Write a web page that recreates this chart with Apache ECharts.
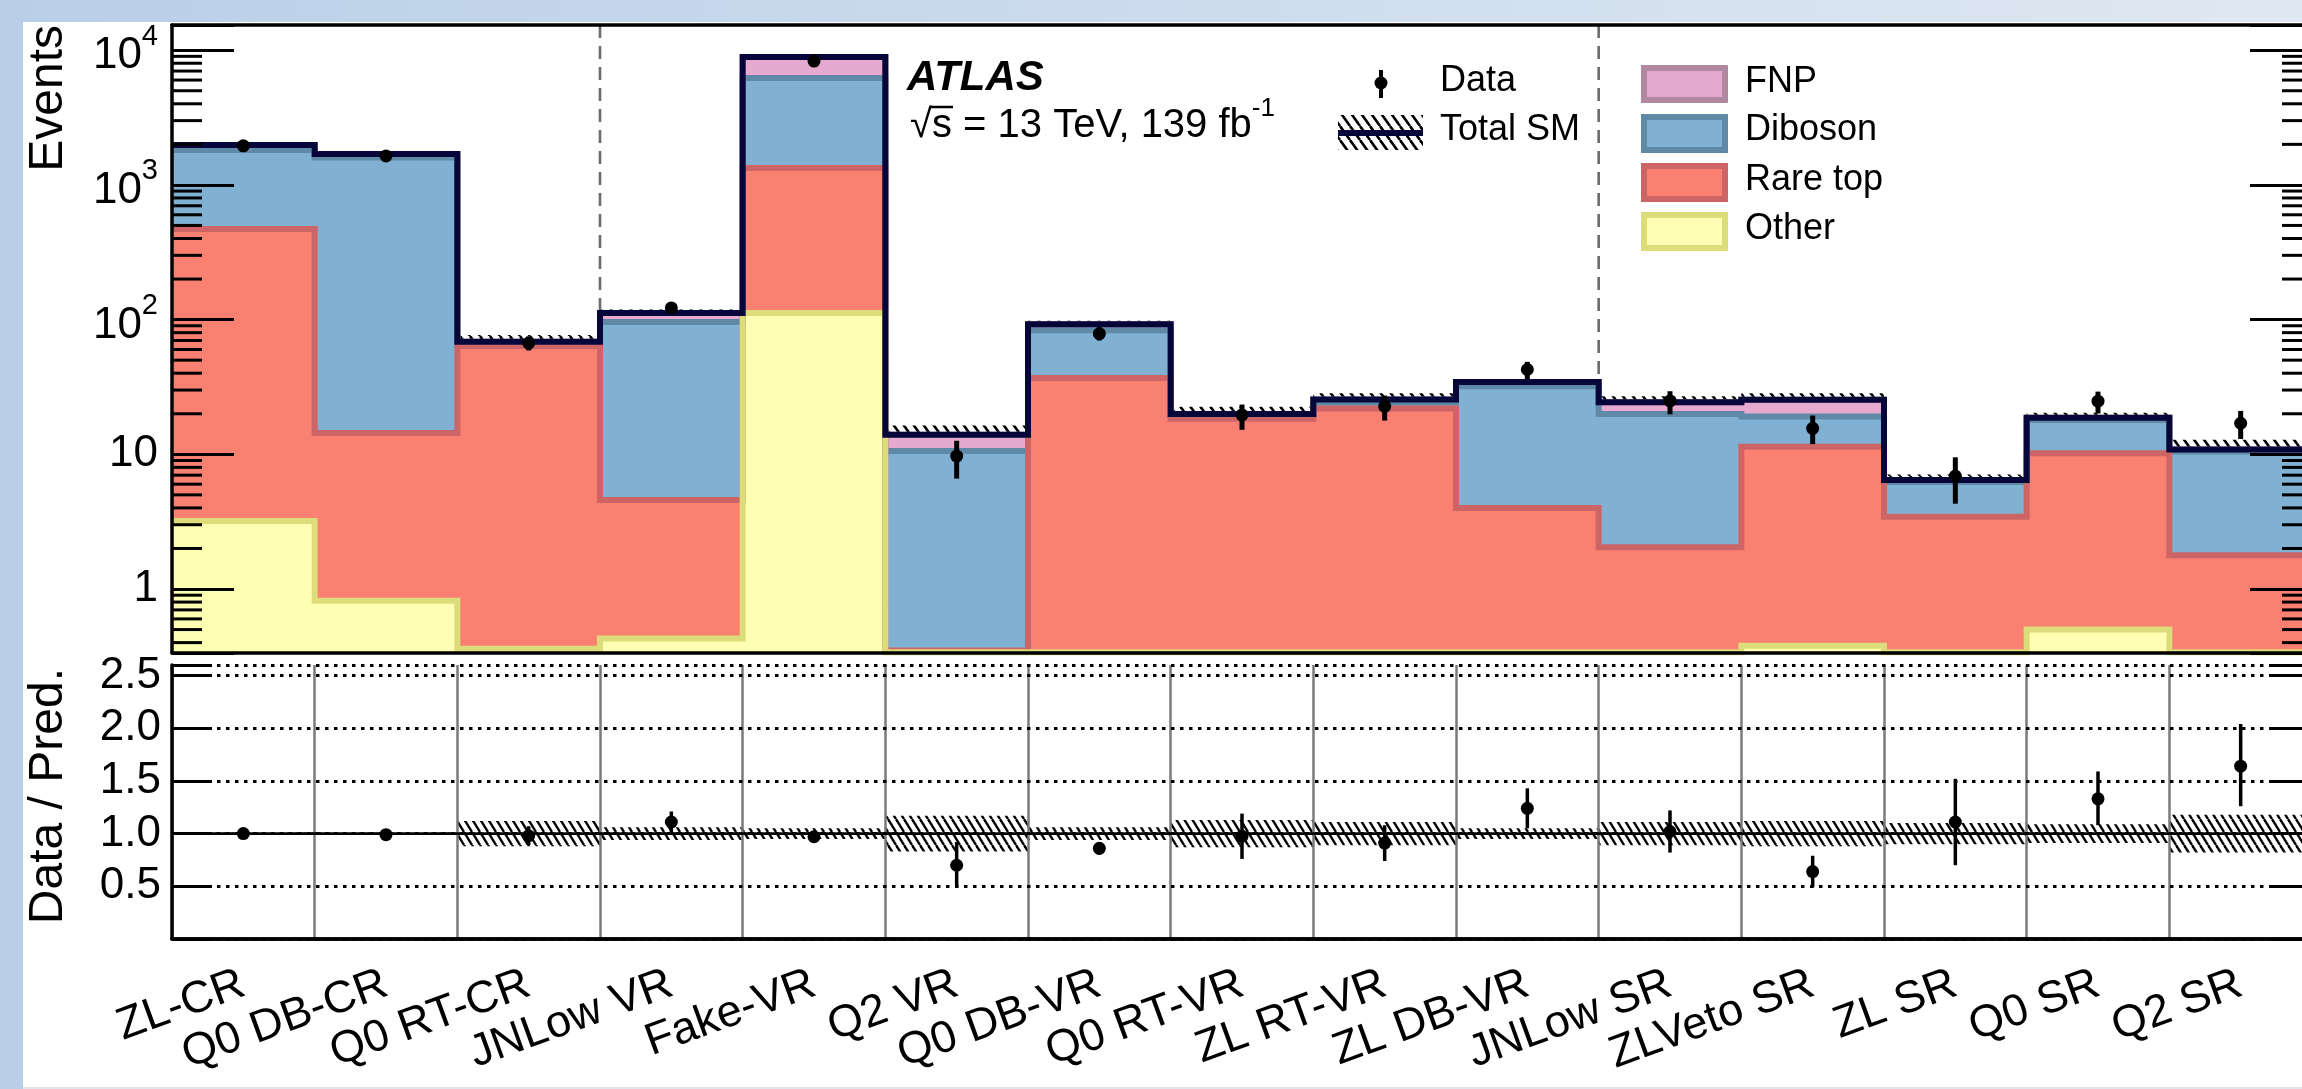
<!DOCTYPE html>
<html><head><meta charset="utf-8">
<script src="https://cdn.jsdelivr.net/npm/echarts@6/dist/echarts.min.js"></script>
<style>html,body{margin:0;padding:0;background:#fff;overflow:hidden}#c{width:2302px;height:1089px}</style>
</head><body><div id="c"></div><script>
// ---------------- data ----------------
const categories = ['ZL-CR','Q0 DB-CR','Q0 RT-CR','JNLow VR','Fake-VR','Q2 VR','Q0 DB-VR','Q0 RT-VR','ZL RT-VR','ZL DB-VR','JNLow SR','ZLVeto SR','ZL SR','Q0 SR','Q2 SR'];
const other   = [3.2, 0.82, 0.36, 0.43, 112, 0.34, 0.34, 0.34, 0.34, 0.34, 0.34, 0.38, 0.34, 0.5, 0.34];
const rareTop = [468, 13.6, 63.3, 4.15, 1222, 0.01, 36.5, 18.0, 21.5, 3.65, 1.7, 11.0, 3.1, 9.7, 1.44];
const diboson = [1345, 1586, 3.0, 91.4, 4886, 10.25, 46.5, 1.0, 2.4, 28, 17.9, 7.7, 2.8, 7.8, 8.7];
const fnp     = [162, 95, 1.9, 16, 2680, 3.4, 9.0, 0.6, 1.3, 2.5, 4.4, 6.3, 0.2, 0.7, 0.4];
const dataVal = [1950, 1640, 67, 122, 8300, 9.7, 78.6, 19.6, 22.7, 42.6, 24.9, 15.6, 6.9, 24.8, 17.0];
const dataLo  = [1906, 1600, 59, 111, 8210, 6.6, 70, 15.2, 17.8, 35.8, 19.8, 11.9, 4.3, 20.1, 13.0];
const dataHi  = [1994, 1680, 75, 133, 8390, 12.6, 88, 23.4, 27.3, 48.6, 29.4, 19.4, 9.5, 29.2, 21.0];
const ratioVal = [1.00, 0.99, 0.98, 1.11, 0.97, 0.70, 0.86, 0.975, 0.91, 1.24, 1.02, 0.64, 1.11, 1.33, 1.64];
const ratioLo  = [0.985, 0.975, 0.89, 1.01, 0.955, 0.49, 0.80, 0.76, 0.74, 1.05, 0.82, 0.49, 0.70, 1.08, 1.26];
const ratioHi  = [1.015, 1.005, 1.07, 1.21, 0.985, 0.92, 0.92, 1.19, 1.08, 1.43, 1.22, 0.79, 1.52, 1.59, 2.04];
const relUnc   = [0.01, 0.01, 0.12, 0.06, 0.05, 0.17, 0.06, 0.13, 0.11, 0.05, 0.11, 0.12, 0.10, 0.09, 0.18];
const dividerBins = [3, 10];
const logTickExp = [0, 1, 2, 3, 4];
const logTickLabels = ['1', '10', '{b|10}{s|2}', '{b|10}{s|3}', '{b|10}{s|4}'];
const ratioTickLabels = ['0.5', '1.0', '1.5', '2.0', '2.5'];
const ratioRef = 1.0;
const Y_MIN = 0.335, Y_MAX = 15380, R_MIN = 0, R_MAX = 2.6;

// ---------------- helpers ----------------
const FONT = '"Liberation Sans", Arial, Helvetica, sans-serif';
const nBins = categories.length;
function cum(...arrs) { return arrs[0].map((_, i) => arrs.reduce((s, a) => s + a[i], 0)); }
const cOther = other;
const cRare = cum(other, rareTop);
const cDib = cum(other, rareTop, diboson);
const cTot = cum(other, rareTop, diboson, fnp);
function stepData(vals) { const d = vals.map((v, i) => [i, v]); d.push([vals.length, vals[vals.length - 1]]); return d; }
function makeHatch(w, h, lw) {
  const c = document.createElement('canvas'); c.width = w; c.height = h;
  const ctx = c.getContext('2d'); ctx.strokeStyle = '#000'; ctx.lineWidth = lw;
  for (const dx of [-w, 0, w]) { ctx.beginPath(); ctx.moveTo(dx, 0); ctx.lineTo(dx + w, h); ctx.stroke(); }
  return { image: c, repeat: 'repeat' };
}
const hatchUp = makeHatch(10, 14, 2.6);
const hatchLow = makeHatch(8, 13, 2.4);
const minorTicks = [];
for (let e = -1; e <= 4; e++) for (let k = 2; k <= 9; k++) { const v = k * Math.pow(10, e); if (v > Y_MIN && v < Y_MAX) minorTicks.push([0, v]); }

function stackSeries(name, vals, fill, border) {
  return { type: 'line', name, xAxisIndex: 2, yAxisIndex: 0, data: stepData(vals), step: 'end', showSymbol: false, symbol: 'none',
    clip: true, silent: true, lineStyle: { color: border, width: 6, join: 'miter' }, areaStyle: { color: fill, opacity: 1, origin: 'start' } };
}
function hatchRender(pattern) {
  return function (params, api) {
    const i = api.value(0), lo = api.value(1), hi = api.value(2);
    const p1 = api.coord([i, hi]), p2 = api.coord([i + 1, lo]);
    return { type: 'rect', shape: { x: p1[0], y: p1[1], width: p2[0] - p1[0], height: p2[1] - p1[1] }, style: { fill: pattern } };
  };
}
function pointRender(barW, r) {
  return function (params, api) {
    const x = api.value(0), v = api.value(1), lo = api.value(2), hi = api.value(3);
    const p = api.coord([x, v]), pl = api.coord([x, lo]), ph = api.coord([x, hi]);
    return { type: 'group', children: [
      { type: 'line', shape: { x1: p[0], y1: pl[1], x2: p[0], y2: ph[1] }, style: { stroke: '#000', lineWidth: barW } },
      { type: 'circle', shape: { cx: p[0], cy: p[1], r: r }, style: { fill: '#000' } }
    ] };
  };
}
const blackLine = { color: '#000', width: 3.5 };
const tickStyle = { color: '#000', width: 3 };

const option = {
  animation: false,
  grid: [
    { left: 172, top: 25, width: 2140, height: 628, outerBoundsMode: 'none', containLabel: false },
    { left: 172, top: 665, width: 2140, height: 274, outerBoundsMode: 'none', containLabel: false }
  ],
  xAxis: [
    { type: 'category', gridIndex: 0, data: categories, position: 'bottom', z: 10, axisLine: { lineStyle: blackLine },
      axisTick: { inside: true, alignWithLabel: true, interval: 0, length: 17, lineStyle: tickStyle }, axisLabel: { show: false, interval: 0 }, splitLine: { show: false } },
    { type: 'category', gridIndex: 0, data: categories, position: 'top', z: 10, axisLine: { lineStyle: blackLine },
      axisTick: { inside: true, alignWithLabel: true, interval: 0, length: 17, lineStyle: tickStyle }, axisLabel: { show: false, interval: 0 }, splitLine: { show: false } },
    { type: 'value', gridIndex: 0, min: 0, max: nBins, show: false },
    { type: 'category', gridIndex: 1, data: categories, position: 'bottom', z: 10, axisLine: { lineStyle: blackLine },
      axisTick: { inside: true, alignWithLabel: true, interval: 0, length: 13, lineStyle: tickStyle },
      axisLabel: { show: true, interval: 0, rotate: 20, margin: 44, fontSize: 45, fontFamily: FONT, color: '#000', hideOverlap: false }, splitLine: { show: false } },
    { type: 'category', gridIndex: 1, data: categories, position: 'top', z: 10, axisLine: { lineStyle: blackLine },
      axisTick: { inside: true, alignWithLabel: true, interval: 0, length: 14, lineStyle: tickStyle }, axisLabel: { show: false, interval: 0 }, splitLine: { show: false } },
    { type: 'value', gridIndex: 1, min: 0, max: nBins, interval: 1, show: true, z: 3, axisLine: { show: false }, axisTick: { show: false }, axisLabel: { show: false },
      splitLine: { show: true, lineStyle: { color: '#7a7a7a', width: 2.5 } } }
  ],
  yAxis: [
    { type: 'log', gridIndex: 0, position: 'left', min: Y_MIN, max: Y_MAX, logBase: 10, splitNumber: 5, z: 10,
      axisLine: { show: true, lineStyle: blackLine }, axisTick: { show: true, inside: true, length: 62, lineStyle: tickStyle },
      splitLine: { show: false }, minorTick: { show: false },
      axisLabel: { show: true, margin: 14, fontSize: 44, fontFamily: FONT, color: '#000',
        formatter: function (v) { const l = Math.log10(v), e = Math.round(l); if (Math.abs(l - e) > 1e-6) return ''; const i = logTickExp.indexOf(e); return i < 0 ? '' : logTickLabels[i]; },
        rich: { b: { fontSize: 44, fontFamily: FONT, color: '#000', lineHeight: 56, verticalAlign: 'bottom' }, s: { fontSize: 29, fontFamily: FONT, color: '#000', lineHeight: 22, verticalAlign: 'top' } } } },
    { type: 'log', gridIndex: 0, position: 'right', min: Y_MIN, max: Y_MAX, logBase: 10, splitNumber: 5, z: 10,
      axisLine: { show: true, lineStyle: blackLine }, axisTick: { show: true, inside: true, length: 62, lineStyle: tickStyle },
      splitLine: { show: false }, axisLabel: { show: false } },
    { type: 'value', gridIndex: 1, position: 'left', min: R_MIN, max: R_MAX, interval: 0.5, z: 10,
      axisLine: { show: true, lineStyle: blackLine }, axisTick: { show: true, inside: true, length: 40, lineStyle: tickStyle },
      splitLine: { show: true, lineStyle: { color: '#000', width: 3, type: [3.5, 5.5] } },
      axisLabel: { show: true, margin: 11, fontSize: 44, fontFamily: FONT, color: '#000',
        formatter: function (v) { const s = v.toFixed(1); return ratioTickLabels.indexOf(s) >= 0 ? s : ''; } } },
    { type: 'value', gridIndex: 1, position: 'right', min: R_MIN, max: R_MAX, interval: 0.5, z: 10,
      axisLine: { show: true, lineStyle: blackLine }, axisTick: { show: true, inside: true, length: 40, lineStyle: tickStyle },
      splitLine: { show: false }, axisLabel: { show: false } }
  ],
  series: [
    stackSeries('FNP', cTot, '#e6a9d0', '#b0889f'),
    stackSeries('Diboson', cDib, '#80b1d3', '#5f89a6'),
    stackSeries('Rare top', cRare, '#fa8072', '#cd6566'),
    stackSeries('Other', cOther, '#ffffb3', '#dcdc7a'),
    { type: 'custom', xAxisIndex: 2, yAxisIndex: 0, silent: true, renderItem: hatchRender(hatchUp), encode: { x: 0, y: [1, 2] },
      data: cTot.map((t, i) => [i, t * (1 - relUnc[i]), t * (1 + relUnc[i])]) },
    { type: 'line', name: 'Total SM', xAxisIndex: 2, yAxisIndex: 0, data: stepData(cTot), step: 'end', showSymbol: false, symbol: 'none', silent: true,
      lineStyle: { color: '#06063a', width: 6, join: 'miter' } },
    { type: 'custom', xAxisIndex: 2, yAxisIndex: 0, silent: true, encode: { x: 0, y: 1 },
      data: dividerBins.map(b => [b, Y_MIN]),
      renderItem: function (params, api) {
        const b = api.value(0); const p1 = api.coord([b, Y_MAX]), p2 = api.coord([b, Y_MIN]);
        return { type: 'line', shape: { x1: p1[0], y1: p1[1], x2: p2[0], y2: p2[1] }, style: { stroke: '#6b6b6b', lineWidth: 2.6, lineDash: [13, 8] } };
      } },
    { type: 'custom', xAxisIndex: 2, yAxisIndex: 0, silent: true, encode: { x: 0, y: 1 }, data: minorTicks, z: 11,
      renderItem: function (params, api) {
        const v = api.value(1); const pl = api.coord([0, v]), pr = api.coord([nBins, v]);
        return { type: 'group', children: [
          { type: 'line', shape: { x1: pl[0], y1: pl[1], x2: pl[0] + 30, y2: pl[1] }, style: { stroke: '#000', lineWidth: 3 } },
          { type: 'line', shape: { x1: pr[0] - 30, y1: pr[1], x2: pr[0], y2: pr[1] }, style: { stroke: '#000', lineWidth: 3 } }
        ] };
      } },
    { type: 'custom', xAxisIndex: 2, yAxisIndex: 0, silent: true, encode: { x: 0, y: 1 }, renderItem: pointRender(5, 6.5), z: 12,
      data: dataVal.map((v, i) => [i + 0.5, v, dataLo[i], dataHi[i]]) },
    // ratio panel
    { type: 'custom', xAxisIndex: 5, yAxisIndex: 2, silent: true, renderItem: hatchRender(hatchLow), encode: { x: 0, y: [1, 2] },
      data: relUnc.map((r, i) => [i, ratioRef - r, ratioRef + r]) },
    { type: 'line', xAxisIndex: 5, yAxisIndex: 2, data: [[0, ratioRef], [nBins, ratioRef]], showSymbol: false, symbol: 'none', silent: true,
      lineStyle: { color: '#000', width: 2.6 } },
    { type: 'custom', xAxisIndex: 5, yAxisIndex: 2, silent: true, encode: { x: 0, y: 1 }, renderItem: pointRender(3.5, 6.5), z: 12,
      data: ratioVal.map((v, i) => [i + 0.5, v, ratioLo[i], ratioHi[i]]) }
  ],
  graphic: [
    { type: 'rect', z: -100, silent: true, shape: { x: 0, y: 0, width: 2302, height: 1089 },
      style: { fill: new echarts.graphic.LinearGradient(0, 0, 1, 0, [{ offset: 0, color: '#b9cfe8' }, { offset: 1, color: '#dfe8f2' }]) } },
    { type: 'rect', z: -99, silent: true, shape: { x: 23, y: 22, width: 2279, height: 1065 }, style: { fill: '#ffffff' } },
    { type: 'rect', z: -98, silent: true, shape: { x: 23, y: 1087, width: 2279, height: 2 }, style: { fill: '#e1e5ea' } },
    { type: 'text', z: 100, x: 49, y: 25, rotation: Math.PI / 2, style: { text: 'Events', font: '48px ' + FONT, fill: '#000', align: 'right', verticalAlign: 'middle' } },
    { type: 'text', z: 100, x: 49, y: 668, rotation: Math.PI / 2, style: { text: 'Data / Pred.', font: '48px ' + FONT, fill: '#000', align: 'right', verticalAlign: 'middle' } },
    { type: 'text', z: 100, x: 907, y: 78, style: { text: 'ATLAS', font: 'italic bold 42px ' + FONT, fill: '#000', align: 'left', verticalAlign: 'middle' } },
    { type: 'text', z: 100, x: 910, y: 121, style: { text: '{r|√s = 13 TeV, 139 fb}{s|-1}', align: 'left', verticalAlign: 'middle',
      rich: { r: { fontSize: 40, fontFamily: FONT, fill: '#000', color: '#000', lineHeight: 50, verticalAlign: 'bottom' }, s: { fontSize: 26, fontFamily: FONT, fill: '#000', color: '#000', lineHeight: 22, verticalAlign: 'top' } } } },
    { type: 'line', z: 100, shape: { x1: 930, y1: 107, x2: 953, y2: 107 }, style: { stroke: '#000', lineWidth: 2.5 } },
    // data legend
    { type: 'line', z: 100, shape: { x1: 1381, y1: 70, x2: 1381, y2: 98 }, style: { stroke: '#000', lineWidth: 4 } },
    { type: 'circle', z: 100, shape: { cx: 1381, cy: 83, r: 6.5 }, style: { fill: '#000' } },
    { type: 'text', z: 100, x: 1440, y: 81, style: { text: 'Data', font: '36px ' + FONT, fill: '#000', align: 'left', verticalAlign: 'middle' } },
    { type: 'rect', z: 100, shape: { x: 1338, y: 115, width: 85, height: 35 }, style: { fill: hatchUp } },
    { type: 'line', z: 101, shape: { x1: 1338, y1: 133, x2: 1423, y2: 133 }, style: { stroke: '#06063a', lineWidth: 6 } },
    { type: 'text', z: 100, x: 1440, y: 130, style: { text: 'Total SM', font: '36px ' + FONT, fill: '#000', align: 'left', verticalAlign: 'middle' } },
    // stack legend
    { type: 'rect', z: 100, shape: { x: 1644, y: 68, width: 81, height: 32 }, style: { fill: '#e6a9d0', stroke: '#b0889f', lineWidth: 6 } },
    { type: 'rect', z: 100, shape: { x: 1644, y: 117, width: 81, height: 33 }, style: { fill: '#80b1d3', stroke: '#5f89a6', lineWidth: 6 } },
    { type: 'rect', z: 100, shape: { x: 1644, y: 166, width: 81, height: 33 }, style: { fill: '#fa8072', stroke: '#cd6566', lineWidth: 6 } },
    { type: 'rect', z: 100, shape: { x: 1644, y: 215, width: 81, height: 33 }, style: { fill: '#ffffb3', stroke: '#dcdc7a', lineWidth: 6 } },
    { type: 'text', z: 100, x: 1745, y: 82, style: { text: 'FNP', font: '36px ' + FONT, fill: '#000', align: 'left', verticalAlign: 'middle' } },
    { type: 'text', z: 100, x: 1745, y: 130, style: { text: 'Diboson', font: '36px ' + FONT, fill: '#000', align: 'left', verticalAlign: 'middle' } },
    { type: 'text', z: 100, x: 1745, y: 180, style: { text: 'Rare top', font: '36px ' + FONT, fill: '#000', align: 'left', verticalAlign: 'middle' } },
    { type: 'text', z: 100, x: 1745, y: 229, style: { text: 'Other', font: '36px ' + FONT, fill: '#000', align: 'left', verticalAlign: 'middle' } }
  ]
};
const chart = echarts.init(document.getElementById('c'), null, { renderer: 'canvas', width: 2302, height: 1089 });
chart.setOption(option);
</script></body></html>
